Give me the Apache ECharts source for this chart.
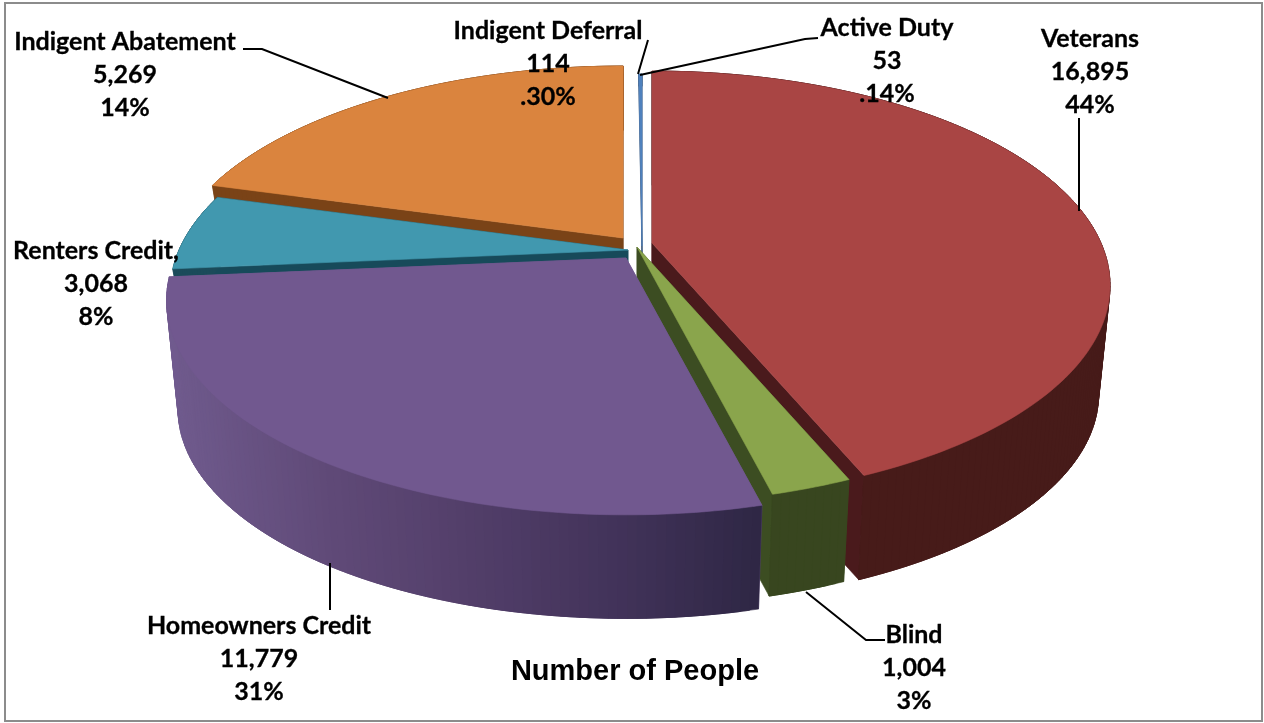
<!DOCTYPE html>
<html><head><meta charset="utf-8">
<style>html,body{margin:0;padding:0;background:#fff}#c{width:1264px;height:723px}</style>
<script src="https://cdn.jsdelivr.net/npm/echarts@6/dist/echarts.min.js"></script>
</head><body><div id="c"></div>
<script>
// ---- data, clockwise from the top of the pie ----
const categories = ['Active Duty','Veterans','Blind','Homeowners Credit','Renters Credit,','Indigent Abatement','Indigent Deferral'];
const people     = [53,16895,1004,11779,3068,5269,114];
const percentText= ['.14%','44%','3%','31%','8%','14%','.30%'];
const chartTitle = 'Number of People';

// ---- styling and layout ----
const topColors   = ['#4f81bd','#a94544','#8aa54c','#71588f','#4198af','#da843e','#ffffff'];
const rimColors   = ['#2f4d72','#471b19','#38461f','#4a3a66','#1b4b5a','#7a4317','#ffffff'];
const radialColors= ['#2f4d72','#4a1a1c','#3c4d22','#705b8e','#174a5a','#7a4317','#ffffff'];
const apexX = [642,652,637,626,628,623,636];
const apexY = [246,243,247,258,250,238,240];
const sideScale = [1,1,1,1.003,1,1,1];
const wallDepth = [8,110,108,110,60,60,8];
const drawRank  = [1,4,5,6,3,2,0];
const startAngle = -0.5, radiusX = 449, radiusY = 206, perspective = 0.198, bottomShrink = 0.975;
// reading of the tilted camera: data angle -> angle seen on the disc
const viewAngleIn  = [0,160,170,280,310,358];
const viewAngleOut = [0,158,167,265,286.5,359.6];
const labelBoxes = [[887,27],[1090,38],[914,634],[259,625],[96,250],[125,41],[548,30]];
const leaders = [
  [[818,38],[805,39],[640,75]],
  [[1079,118],[1079,211]],
  [[885,640],[866,640],[806,592]],
  [[330,563],[330,610]],
  [[243,49],[262,49],[388,98]],
  [[648,40],[638,74]]
];
const purpleShadeX = [170,330,480,620,760];
const purpleShades = [[112,91,142],[96,74,120],[82,62,105],[66,51,90],[47,39,69]];

function viewAngle(t){
  if (t<=viewAngleIn[0]) return t;
  for (let i=1;i<viewAngleIn.length;i++){
    if (t<=viewAngleIn[i]){
      const f=(t-viewAngleIn[i-1])/(viewAngleIn[i]-viewAngleIn[i-1]);
      return viewAngleOut[i-1]+f*(viewAngleOut[i]-viewAngleOut[i-1]);
    }
  }
  return viewAngleOut[viewAngleOut.length-1]+(t-viewAngleIn[viewAngleIn.length-1]);
}
const total = people.reduce((a,b)=>a+b,0);
const cum = [0]; people.forEach((v,i)=>cum.push(cum[i]+v));

function project(i,deg,bottom){
  const r=deg*Math.PI/180, u=Math.sin(r), v=-Math.cos(r), d=1-perspective*v;
  const s=bottom?bottomShrink:1;
  return [apexX[i]+sideScale[i]*radiusX*s*u/d, apexY[i]+(bottom?wallDepth[i]:0)+radiusY*s*v/d];
}
function rimColorAt(i,x){
  if (i!==3) return rimColors[i];
  const X=purpleShadeX, C=purpleShades;
  if (x<=X[0]) return 'rgb('+C[0].join(',')+')';
  for(let k=1;k<X.length;k++){
    if(x<=X[k]){
      const f=(x-X[k-1])/(X[k]-X[k-1]);
      return 'rgb('+C[k].map((c,j)=>Math.round(C[k-1][j]+f*(c-C[k-1][j]))).join(',')+')';
    }
  }
  return 'rgb('+C[C.length-1].join(',')+')';
}

function renderSlice(params,api){
  const i=params.dataIndex;
  api.value(0);
  const a0=viewAngle(startAngle+360*cum[i]/total), a1=viewAngle(startAngle+360*cum[i+1]/total);
  const n=Math.max(2,Math.ceil(a1-a0));
  const topArc=[],botArc=[];
  for(let k=0;k<=n;k++){
    const t=a0+(a1-a0)*k/n;
    topArc.push(project(i,t,false)); botArc.push(project(i,t,true));
  }
  const A=[apexX[i],apexY[i]], B=[apexX[i],apexY[i]+wallDepth[i]];
  const rank=drawRank[i]*10;
  const poly=(pts,fill,z)=>({type:'polygon',z2:rank+z,shape:{points:pts},style:{fill:fill,stroke:fill,lineWidth:0.6}});
  const children=[
    poly([A,topArc[0],botArc[0],B],radialColors[i],0),
    poly([A,topArc[n],botArc[n],B],radialColors[i],1)
  ];
  // wall strips overlap their neighbour so no seams show between them
  for(let k=0;k<n;k++){
    const e=Math.min(k+3,n);
    children.push(poly([topArc[k],topArc[e],botArc[e],botArc[k]],rimColorAt(i,(topArc[k][0]+botArc[k][0])/2),2));
  }
  children.push(poly([A].concat(topArc),topColors[i],3));
  return {type:'group',children:children};
}

const graphics=[
  {type:'rect',z:0,silent:true,shape:{x:5,y:3,width:1257,height:718},style:{fill:'#fff',stroke:'#8c8c8c',lineWidth:2}},
  {type:'text',z:20,x:635,y:672,style:{text:chartTitle,fontFamily:'Liberation Sans',fontWeight:'bold',fontSize:29,fill:'#000',align:'center',verticalAlign:'middle'}}
];
leaders.forEach(p=>graphics.push({type:'polyline',z:20,silent:true,shape:{points:p},style:{stroke:'#000',lineWidth:2,fill:null}}));
categories.forEach((c,i)=>{
  graphics.push({type:'text',z:20,x:labelBoxes[i][0],y:labelBoxes[i][1]-16,style:{
    text:c+'\n'+people[i].toLocaleString('en-US')+'\n'+percentText[i],
    fontFamily:'Lato',fontWeight:'bold',fontSize:25,lineHeight:33,fill:'#000',stroke:'#000',lineWidth:0.3,align:'center',verticalAlign:'top'}});
});

const chart=echarts.init(document.getElementById('c'),null,{renderer:'canvas'});
chart.setOption({
  animation:false,
  backgroundColor:'#fff',
  graphic:graphics,
  series:[{type:'custom',coordinateSystem:'none',silent:true,z:5,data:people,renderItem:renderSlice}]
});
</script></body></html>
